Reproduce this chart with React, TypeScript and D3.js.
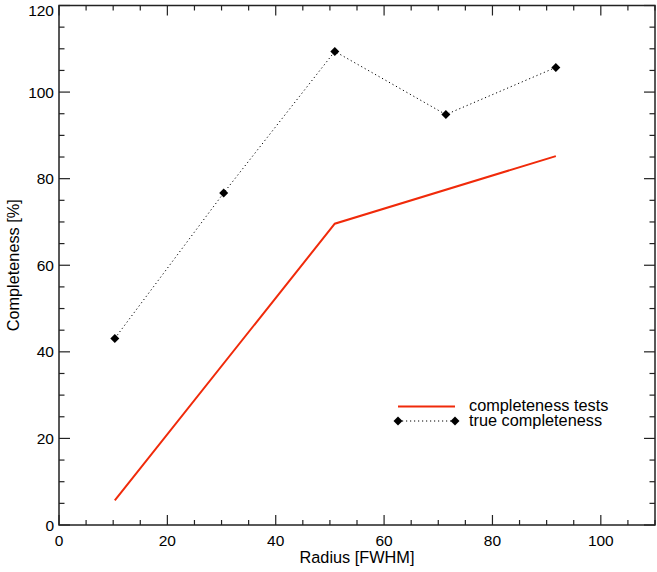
import React from "react";
import * as d3 from "d3";

const radiusTrue = [10.3, 30.4, 50.9, 71.4, 91.7];
const trueCompleteness = [43.1, 76.7, 109.4, 94.8, 105.7];
const radiusTests = [10.3, 50.9, 91.7];
const testCompleteness = [5.7, 69.6, 85.2];
const xTicks = [0, 20, 40, 60, 80, 100];
const yTicks = [0, 20, 40, 60, 80, 100, 120];

const WIDTH = 657;
const HEIGHT = 572;
const M = { left: 59, right: 2, top: 5.5, bottom: 47 };
const FONT = "'Liberation Sans', Arial, Helvetica, sans-serif";

const diamond = (cx: number, cy: number, r = 4.5) =>
  `M${cx},${cy - r}L${cx + r},${cy}L${cx},${cy + r}L${cx - r},${cy}Z`;

export default function App() {
  const x = d3.scaleLinear().domain([0, 110]).range([M.left, WIDTH - M.right]);
  const y = d3.scaleLinear().domain([0, 120]).range([HEIGHT - M.bottom, M.top]);
  const [x0, x1] = x.range();
  const [y0, y1] = y.range();

  const line = d3
    .line<[number, number]>()
    .x((d) => x(d[0]))
    .y((d) => y(d[1]));

  const truePts = radiusTrue.map((r, i) => [r, trueCompleteness[i]] as [number, number]);
  const testPts = radiusTests.map((r, i) => [r, testCompleteness[i]] as [number, number]);

  const xMinor = d3.range(0, 111, 5);
  const yMinor = d3.range(0, 121, 5);
  const axisColor = "#222";

  return (
    <svg
      width={WIDTH}
      height={HEIGHT}
      style={{ position: "absolute", left: 0, top: 0, background: "white" }}
      fontFamily={FONT}
    >
      {/* frame */}
      <rect x={x0} y={y1} width={x1 - x0} height={y0 - y1} fill="none" stroke={axisColor} strokeWidth={1.5} />

      {/* x ticks, bottom and top */}
      {xMinor.map((v) => {
        const major = v % 20 === 0;
        const len = major ? 10 : 5;
        return (
          <g key={"xt" + v} stroke={axisColor} strokeWidth={1.2}>
            <line x1={x(v)} x2={x(v)} y1={y0} y2={y0 - len} />
            <line x1={x(v)} x2={x(v)} y1={y1} y2={y1 + len} />
          </g>
        );
      })}
      {yMinor.map((v) => {
        const major = v % 20 === 0;
        const len = major ? 11 : 5.5;
        return (
          <g key={"yt" + v} stroke={axisColor} strokeWidth={1.2}>
            <line x1={x0} x2={x0 + len} y1={y(v)} y2={y(v)} />
            <line x1={x1} x2={x1 - len} y1={y(v)} y2={y(v)} />
          </g>
        );
      })}

      {xTicks.map((v) => (
        <text key={"xl" + v} x={x(v)} y={y0 + 21} textAnchor="middle" fontSize={15.5} fill="#000">
          {v}
        </text>
      ))}
      {yTicks.map((v) => (
        <text
          key={"yl" + v}
          x={x0 - 5}
          y={Math.max(y(v) + 5.5, 15.5)}
          textAnchor="end"
          fontSize={15.5}
          fill="#000"
        >
          {v}
        </text>
      ))}

      <text x={(x0 + x1) / 2} y={y0 + 38} textAnchor="middle" fontSize={16.3} fill="#000">
        Radius [FWHM]
      </text>
      <text
        transform={`translate(${19},${(y0 + y1) / 2}) rotate(-90)`}
        textAnchor="middle"
        fontSize={16.3}
        fill="#000"
      >
        Completeness [%]
      </text>

      {/* data */}
      <path d={line(testPts) ?? ""} fill="none" stroke="#f02a0a" strokeWidth={2} />
      <path d={line(truePts) ?? ""} fill="none" stroke="#000" strokeWidth={1} strokeDasharray="1.2,2.8" />
      {truePts.map((d, i) => (
        <path key={"m" + i} d={diamond(x(d[0]), y(d[1]))} fill="#000" />
      ))}

      {/* legend */}
      <line x1={398} x2={455} y1={406.5} y2={406.5} stroke="#f02a0a" strokeWidth={2} />
      <text x={469} y={411.3} fontSize={16.3} fill="#000">completeness tests</text>
      <line x1={398} x2={455} y1={421} y2={421} stroke="#000" strokeWidth={1} strokeDasharray="1.2,2.8" />
      <path d={diamond(398, 421)} fill="#000" />
      <path d={diamond(455, 421)} fill="#000" />
      <text x={469} y={425.7} fontSize={16.3} fill="#000">true completeness</text>
    </svg>
  );
}
